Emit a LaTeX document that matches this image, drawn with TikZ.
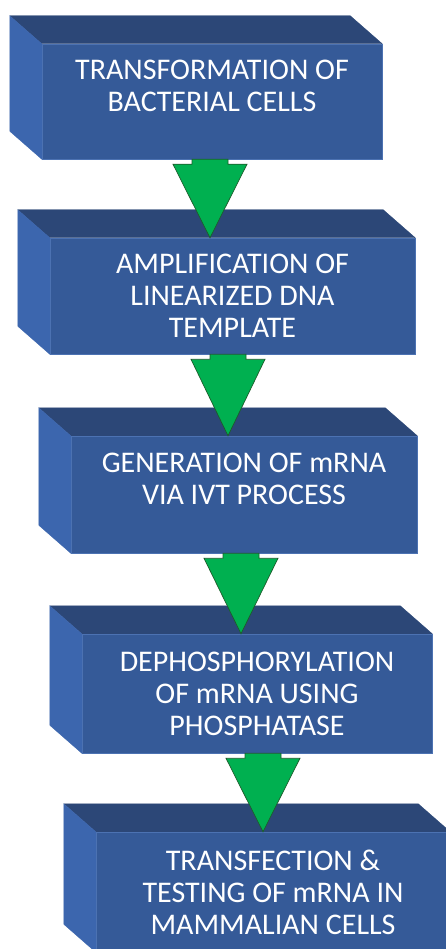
\documentclass[tikz,border=0pt]{standalone}
\usepackage{fontspec}
\setmainfont{Carlito}
\usetikzlibrary{calc}
\definecolor{frontblue}{HTML}{355A98}
\definecolor{topblue}{HTML}{2C4777}
\definecolor{sideblue}{HTML}{3C66AE}
\definecolor{edgeblue}{HTML}{4C72B2}
\definecolor{arrowgreen}{HTML}{00B050}
\definecolor{arrowedge}{HTML}{1D5C2B}
\tikzset{
  stepface/.style={rectangle, fill=frontblue, draw=edgeblue, line width=0.5pt,
    text=white, align=center, inner sep=0pt,
    font=\fontsize{30}{32}\selectfont},
  topface/.style={fill=topblue, draw=topblue, line width=0.3pt},
  sideface/.style={fill=sideblue, draw=sideblue, line width=0.3pt},
  garrow/.style={fill=arrowgreen, draw=arrowedge, line width=0.7pt, line join=miter},
}
% 3D slab faces behind a front node
\newcommand{\slabfaces}[1]{%
  \fill[topface] (#1.north west) -- ++(-32,-28) -- ($(#1.north east)+(-32,-28)$) -- (#1.north east) -- cycle;
  \fill[sideface] (#1.north west) -- ++(-32,-28) -- ($(#1.south west)+(-32,-28)$) -- (#1.south west) -- cycle;
}
% block arrow from node #1 to node #2 centred at x = #3
\newcommand{\flowarrow}[3]{%
  \draw[garrow] let \p1=(#1.south), \p2=(#2.north) in
    (#3pt-18pt,\y1) -- (#3pt+18pt,\y1) -- (#3pt+18pt,\y1-5pt) -- (#3pt+37pt,\y1-5pt)
    -- (#3pt,\y2) -- (#3pt-37pt,\y1-5pt) -- (#3pt-18pt,\y1-5pt) -- cycle;
}
\begin{document}
\begin{tikzpicture}[x=1pt,y=-1pt]
\useasboundingbox (0,0) rectangle (446,949);
\clip (0,0) rectangle (446,949);
\fill[white] (0,0) rectangle (446,949);

\node[stepface, minimum width=340, minimum height=115] (s1) at (212,101.5)
  {TRANSFORMATION OF\\BACTERIAL CELLS\\\mbox{}};
\node[stepface, minimum width=365, minimum height=116] (s2) at (232.5,296)
  {AMPLIFICATION OF\\LINEARIZED DNA\\TEMPLATE};
\node[stepface, minimum width=346, minimum height=117] (s3) at (244,494.5)
  {GENERATION OF mRNA\\VIA IVT PROCESS\\\mbox{}};
\node[stepface, minimum width=350, minimum height=119] (s4) at (257,693.5)
  {DEPHOSPHORYLATION\\OF mRNA USING\\PHOSPHATASE};
\node[stepface, minimum width=354, minimum height=120] (s5) at (273,892)
  {TRANSFECTION \&\\TESTING OF mRNA IN\\MAMMALIAN CELLS};

\slabfaces{s1}
\slabfaces{s2}
\slabfaces{s3}
\slabfaces{s4}
\slabfaces{s5}

\flowarrow{s1}{s2}{210}
\flowarrow{s2}{s3}{228}
\flowarrow{s3}{s4}{241}
\flowarrow{s4}{s5}{263}
\end{tikzpicture}
\end{document}
